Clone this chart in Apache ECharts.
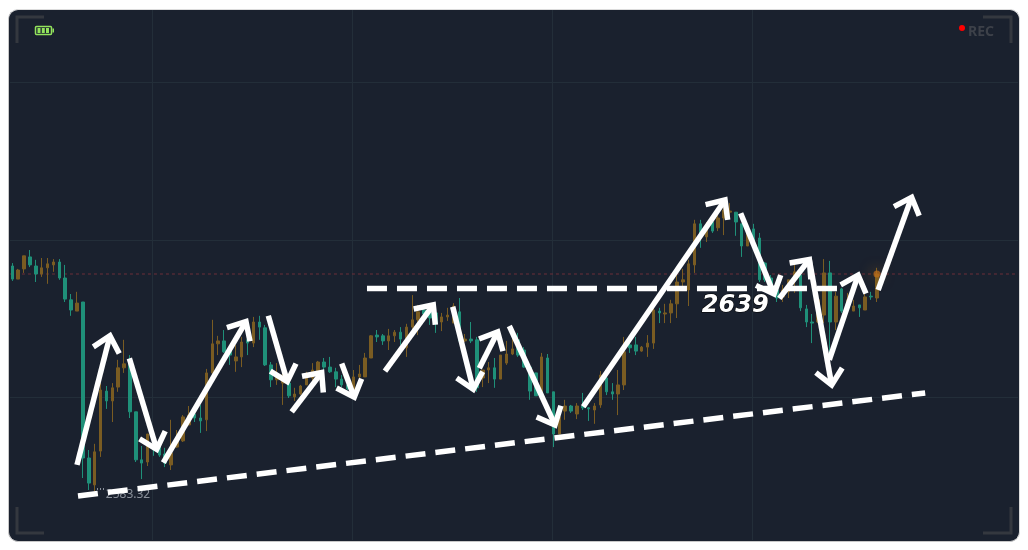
<!DOCTYPE html>
<html><head><meta charset="utf-8">
<style>
html,body{margin:0;padding:0;width:1028px;height:550px;background:#fff;overflow:hidden}
#panel{position:absolute;left:8px;top:9px;width:1012px;height:533px;background:#1a212e;border-radius:10px;box-sizing:border-box;border:1px solid #c8c8c8;border-right-color:#dcdcdc;border-top-color:#dcdcdc}
#c{position:absolute;left:0;top:0;width:1028px;height:550px}
</style>
<script src="https://cdn.jsdelivr.net/npm/echarts@6/dist/echarts.min.js"></script>
</head><body><div id="panel"></div><div id="c"></div>
<script>
const opens=[2645.2,2641.6,2644.4,2647.7,2645.2,2643.0,2644.7,2645.5,2646.3,2641.9,2635.9,2632.8,2635.3,2592.4,2585.0,2594.3,2610.8,2608.1,2611.9,2617.2,2618.5,2605.1,2591.9,2591.3,2595.7,2596.0,2593.5,2590.5,2595.4,2597.1,2601.5,2604.5,2603.4,2602.9,2615.8,2623.8,2624.6,2622.1,2619.1,2620.2,2624.9,2624.0,2629.8,2628.2,2618.0,2613.9,2613.0,2613.0,2609.2,2610.0,2612.5,2614.4,2615.8,2618.8,2617.4,2616.1,2614.1,2612.5,2610.6,2614.7,2614.7,2619.9,2626.2,2626.0,2624.6,2626.0,2627.0,2622.7,2628.4,2630.4,2633.1,2632.8,2632.3,2629.8,2631.2,2629.5,2632.6,2624.6,2625.1,2624.9,2614.4,2616.6,2617.2,2614.1,2618.5,2621.0,2624.9,2622.1,2617.4,2615.8,2610.3,2619.9,2610.6,2599.0,2605.3,2606.7,2604.5,2606.7,2606.2,2605.6,2607.0,2614.4,2610.6,2610.0,2612.5,2623.5,2623.5,2621.8,2622.9,2624.0,2632.8,2632.0,2632.3,2634.8,2640.8,2638.6,2645.5,2656.8,2653.2,2657.3,2655.7,2658.4,2660.0,2660.0,2656.8,2650.7,2655.4,2652.9,2646.0,2641.9,2638.6,2636.7,2638.1,2641.4,2642.7,2633.4,2629.8,2629.8,2631.7,2643.3,2629.8,2638.9,2633.7,2632.8,2634.5,2633.1,2636.9,2636.4];
const closes=[2641.6,2644.1,2648.0,2645.5,2643.0,2644.7,2645.8,2646.3,2641.9,2636.1,2633.1,2635.0,2592.4,2585.5,2594.1,2611.1,2608.1,2611.7,2617.2,2618.3,2605.1,2591.9,2591.0,2599.0,2594.6,2593.2,2591.0,2593.8,2597.4,2603.7,2604.2,2603.4,2602.6,2615.8,2623.8,2624.6,2621.6,2620.7,2620.2,2624.3,2624.0,2629.8,2628.4,2618.0,2613.9,2614.7,2615.2,2609.5,2610.0,2612.2,2614.7,2616.6,2618.8,2617.4,2616.1,2614.1,2612.5,2611.4,2614.7,2615.5,2619.9,2626.0,2625.7,2624.6,2626.0,2627.0,2625.1,2628.4,2630.4,2632.6,2632.0,2630.9,2629.5,2631.2,2631.7,2634.2,2624.6,2625.1,2624.6,2611.7,2616.6,2617.2,2614.1,2620.7,2621.0,2622.4,2620.7,2617.4,2610.8,2609.5,2620.2,2610.3,2599.0,2603.7,2606.7,2605.3,2606.7,2606.2,2605.9,2606.7,2615.2,2610.6,2610.0,2612.5,2621.6,2622.7,2621.8,2622.9,2624.0,2633.1,2632.3,2632.3,2634.8,2640.8,2641.4,2645.8,2656.8,2652.9,2655.7,2654.8,2658.4,2660.6,2660.3,2657.3,2650.7,2654.3,2651.3,2641.4,2641.4,2638.1,2636.4,2638.6,2641.4,2643.6,2633.7,2629.8,2629.5,2635.9,2643.3,2629.8,2636.9,2632.8,2635.9,2634.2,2633.7,2636.7,2636.7,2643.0];
const lows=[2641.1,2641.6,2643.3,2644.9,2640.8,2642.2,2640.3,2643.6,2641.4,2635.3,2631.5,2632.8,2586.9,2583.6,2583.32,2592.7,2605.9,2602.3,2610.6,2615.8,2603.4,2591.3,2586.6,2590.2,2593.0,2592.7,2589.9,2589.1,2595.2,2596.8,2601.5,2602.3,2599.3,2599.8,2615.2,2620.7,2621.3,2618.0,2616.1,2617.4,2620.7,2622.9,2624.9,2617.7,2611.9,2612.5,2607.0,2608.9,2608.1,2609.7,2612.5,2613.0,2615.2,2616.1,2615.8,2611.9,2611.9,2611.1,2609.2,2614.4,2614.7,2619.9,2624.3,2623.5,2622.1,2624.3,2623.5,2620.2,2627.0,2626.2,2630.4,2629.0,2626.8,2627.3,2630.1,2629.5,2624.6,2624.3,2624.0,2610.6,2611.9,2613.0,2611.7,2614.1,2618.0,2620.7,2620.2,2617.2,2608.4,2609.5,2609.2,2610.3,2595.4,2599.0,2602.9,2604.8,2603.1,2605.6,2602.6,2601.8,2606.2,2609.7,2608.4,2604.2,2611.1,2621.3,2620.7,2621.6,2620.2,2622.4,2629.5,2629.5,2629.5,2630.9,2638.3,2634.2,2643.3,2650.2,2651.8,2654.3,2654.8,2653.7,2658.4,2653.5,2647.7,2650.7,2650.7,2640.8,2640.8,2637.2,2635.3,2635.3,2636.4,2637.8,2632.8,2628.4,2624.0,2629.5,2629.5,2620.2,2627.6,2632.3,2633.1,2632.8,2631.2,2633.1,2635.9,2635.3];
const highs=[2646.0,2644.4,2648.0,2649.6,2646.9,2647.4,2647.4,2647.1,2647.1,2645.5,2637.5,2638.1,2635.3,2594.6,2596.3,2613.0,2612.2,2613.0,2619.4,2624.9,2620.7,2605.1,2595.7,2599.0,2596.5,2596.5,2595.2,2602.9,2600.1,2604.2,2606.7,2605.1,2607.0,2616.9,2630.4,2626.0,2627.6,2622.7,2623.5,2625.7,2629.5,2631.2,2631.5,2629.0,2618.8,2618.5,2616.6,2613.0,2611.7,2612.5,2616.1,2618.5,2619.1,2619.9,2620.2,2617.2,2615.2,2612.5,2616.6,2618.0,2621.3,2626.2,2627.6,2626.5,2627.9,2627.6,2628.4,2629.3,2637.2,2634.5,2634.5,2634.5,2632.3,2632.3,2633.7,2635.0,2636.4,2626.5,2629.8,2625.7,2616.6,2618.8,2619.9,2620.7,2624.6,2625.4,2626.8,2622.9,2618.0,2615.8,2621.3,2621.0,2610.6,2603.7,2608.4,2607.0,2607.5,2610.3,2606.4,2607.5,2616.3,2614.7,2613.0,2616.6,2625.7,2624.0,2625.7,2623.2,2626.2,2633.7,2633.7,2634.8,2635.9,2642.7,2644.4,2646.9,2657.9,2657.9,2657.3,2658.4,2659.8,2661.4,2662.5,2660.0,2656.8,2657.0,2656.8,2654.3,2646.3,2642.7,2639.2,2640.0,2641.4,2645.5,2643.3,2634.5,2632.0,2637.2,2647.1,2646.6,2638.1,2639.2,2637.8,2635.9,2634.5,2638.1,2638.1,2644.7];
const lowLabel='2583.32', levelLabel='2639', lastPrice=2643;
const levelLine=[[60.3,2639],[140.4,2639]];
const trendLine=[[11.17,2581.95],[155.2,2610.3]];
// tail index, tail price, tip index, tip price
const arrows=[
[11.0,2590.5,16.6,2626.0],[19.9,2619.8,24.55,2594.8],[25.67,2591.1,39.73,2629.9],
[43.52,2631.5,46.75,2613.4],[47.5,2605.1,52.6,2615.9],[56.0,2618.4,58.14,2609.1],
[63.36,2616.3,71.57,2634.5],[74.87,2634.0,78.37,2611.3],[79.4,2617.1,82.52,2627.1],
[84.5,2628.7,92.26,2601.5],[97.07,2606.5,121.17,2663.35],[123.83,2659.7,129.5,2637.5],
[130.4,2636.3,135.5,2647.0],[135.5,2647.0,139.3,2612.5],[138.9,2619.4,143.8,2642.7],
[147.2,2638.6,152.9,2664.1]];
const totalBands=172;
const categories=Array.from({length:totalBands},(_,i)=>String(i));
const candles=opens.map((o,i)=>[o,closes[i],lows[i],highs[i]]);
const UP='#7a5c22',DOWN='#1f9079',GRID='#232e39',BRACKET='#34383f';
const hidden={show:false};
const noAxis={axisLine:hidden,axisTick:hidden,axisLabel:hidden};
const chart=echarts.init(document.getElementById('c'),null,{renderer:'canvas',width:1028,height:550});
function bracket(points){return {type:'polyline',shape:{points},style:{stroke:BRACKET,lineWidth:3,fill:null},z:1};}
chart.setOption({
 animation:false,backgroundColor:'transparent',
 grid:[
  {left:9.36,top:0,width:1011.7,height:550,outerBoundsMode:'none'},
  {left:152.5,top:10,width:600,height:530,outerBoundsMode:'none'},
  {left:10,top:82.5,width:1008,height:315,outerBoundsMode:'none'}],
 xAxis:[
  Object.assign({type:'category',data:categories,boundaryGap:true,gridIndex:0,splitLine:hidden},noAxis),
  Object.assign({type:'value',gridIndex:0,min:-0.5,max:totalBands-0.5,splitLine:hidden},noAxis),
  Object.assign({type:'value',gridIndex:1,min:0,max:600,interval:200,splitLine:{show:true,lineStyle:{color:GRID,width:1}}},noAxis),
  Object.assign({type:'value',gridIndex:2,min:0,max:1,splitLine:hidden},noAxis)],
 yAxis:[
  Object.assign({type:'value',gridIndex:0,min:2567.1,max:2718.35,splitLine:hidden},noAxis),
  Object.assign({type:'value',gridIndex:1,min:0,max:1,splitLine:hidden},noAxis),
  Object.assign({type:'value',gridIndex:2,min:0,max:2,interval:1,splitLine:{show:true,lineStyle:{color:GRID,width:1}}},noAxis)],
 series:[
  {type:'line',xAxisIndex:1,yAxisIndex:0,z:2,symbol:'none',silent:true,data:[[-0.4,lastPrice],[171,lastPrice]],
   lineStyle:{color:'#6d2f38',width:1,type:[3,3]}},
  {type:'candlestick',xAxisIndex:0,yAxisIndex:0,z:3,barWidth:3,data:candles,silent:true,
   itemStyle:{color:UP,color0:DOWN,borderColor:UP,borderColor0:DOWN,borderWidth:1}},
  {type:'scatter',xAxisIndex:1,yAxisIndex:0,z:4,silent:true,symbolSize:7,data:[[147,lastPrice]],
   itemStyle:{opacity:1,color:'rgba(190,110,25,0.75)',shadowBlur:14,shadowColor:'rgba(230,140,30,0.8)'}},
  {type:'line',xAxisIndex:1,yAxisIndex:0,z:4,symbol:'none',silent:true,data:[[14.4,2583.9],[15.6,2583.9]],
   lineStyle:{color:'#8b919b',width:2,type:[1,2]}},
  {type:'scatter',xAxisIndex:1,yAxisIndex:0,z:4,silent:true,symbolSize:0,data:[[15.9,2583.32]],
   itemStyle:{opacity:1},
   label:{show:true,position:'right',distance:0,offset:[0,4],formatter:lowLabel,color:'#8b919b',fontSize:12,fontFamily:'Noto Sans'}},
  {type:'line',xAxisIndex:1,yAxisIndex:0,z:6,symbol:'none',silent:true,data:levelLine,
   lineStyle:{color:'#fff',width:5.5,type:[20,10],cap:'butt'}},
  {type:'line',xAxisIndex:1,yAxisIndex:0,z:6,symbol:'none',silent:true,data:trendLine,
   lineStyle:{color:'#fff',width:5.5,type:[20,10],cap:'butt'}},
  {type:'custom',xAxisIndex:1,yAxisIndex:0,z:7,silent:true,clip:false,data:arrows,
   renderItem:function(params,api){
    const a=api.coord([api.value(0),api.value(1)]),b=api.coord([api.value(2),api.value(3)]);
    const ang=Math.atan2(a[1]-b[1],a[0]-b[0]),s=20,d=42*Math.PI/180;
    const p1=[b[0]+s*Math.cos(ang-d),b[1]+s*Math.sin(ang-d)],p2=[b[0]+s*Math.cos(ang+d),b[1]+s*Math.sin(ang+d)];
    const st={stroke:'#fff',lineWidth:5.5,fill:null,lineJoin:'miter',miterLimit:10};
    return {type:'group',children:[
     {type:'polyline',shape:{points:[a,b]},style:st},
     {type:'polyline',shape:{points:[p1,b,p2]},style:st}]};
   }},
  {type:'scatter',xAxisIndex:1,yAxisIndex:0,z:8,silent:true,symbolSize:0,data:[[122.9,2634.3]],
   itemStyle:{opacity:1},
   label:{show:true,position:'inside',formatter:levelLabel,color:'#fff',opacity:1,fontSize:24,fontStyle:'italic',fontWeight:'bold',fontFamily:'DejaVu Sans',
    textShadowColor:'#000',textShadowBlur:0,textShadowOffsetX:2,textShadowOffsetY:2,textBorderColor:'#000',textBorderWidth:1}}
 ],
 graphic:[
  bracket([[17,43],[17,17],[44,17]]),bracket([[983,17],[1011,17],[1011,43]]),
  bracket([[17,507],[17,533],[44,533]]),bracket([[983,533],[1011,533],[1011,507]]),
  {type:'rect',shape:{x:35.5,y:26.5,width:16,height:8,r:1},style:{stroke:'#92e35c',lineWidth:1.5,fill:'transparent'},z:2},
  {type:'rect',shape:{x:52.5,y:28.5,width:1.5,height:4},style:{fill:'#92e35c'},z:2},
  {type:'rect',shape:{x:37.5,y:28,width:3,height:5},style:{fill:'#92e35c'},z:2},
  {type:'rect',shape:{x:41.8,y:28,width:3,height:5},style:{fill:'#92e35c'},z:2},
  {type:'rect',shape:{x:46,y:28,width:3,height:5},style:{fill:'#92e35c'},z:2},
  {type:'circle',shape:{cx:962,cy:28,r:3},style:{fill:'#ff0000'},z:2},
  {type:'text',x:968,y:25,style:{text:'REC',fill:'#3d4149',font:'bold 14px "Noto Sans"'},z:2}
 ]
});
</script></body></html>
